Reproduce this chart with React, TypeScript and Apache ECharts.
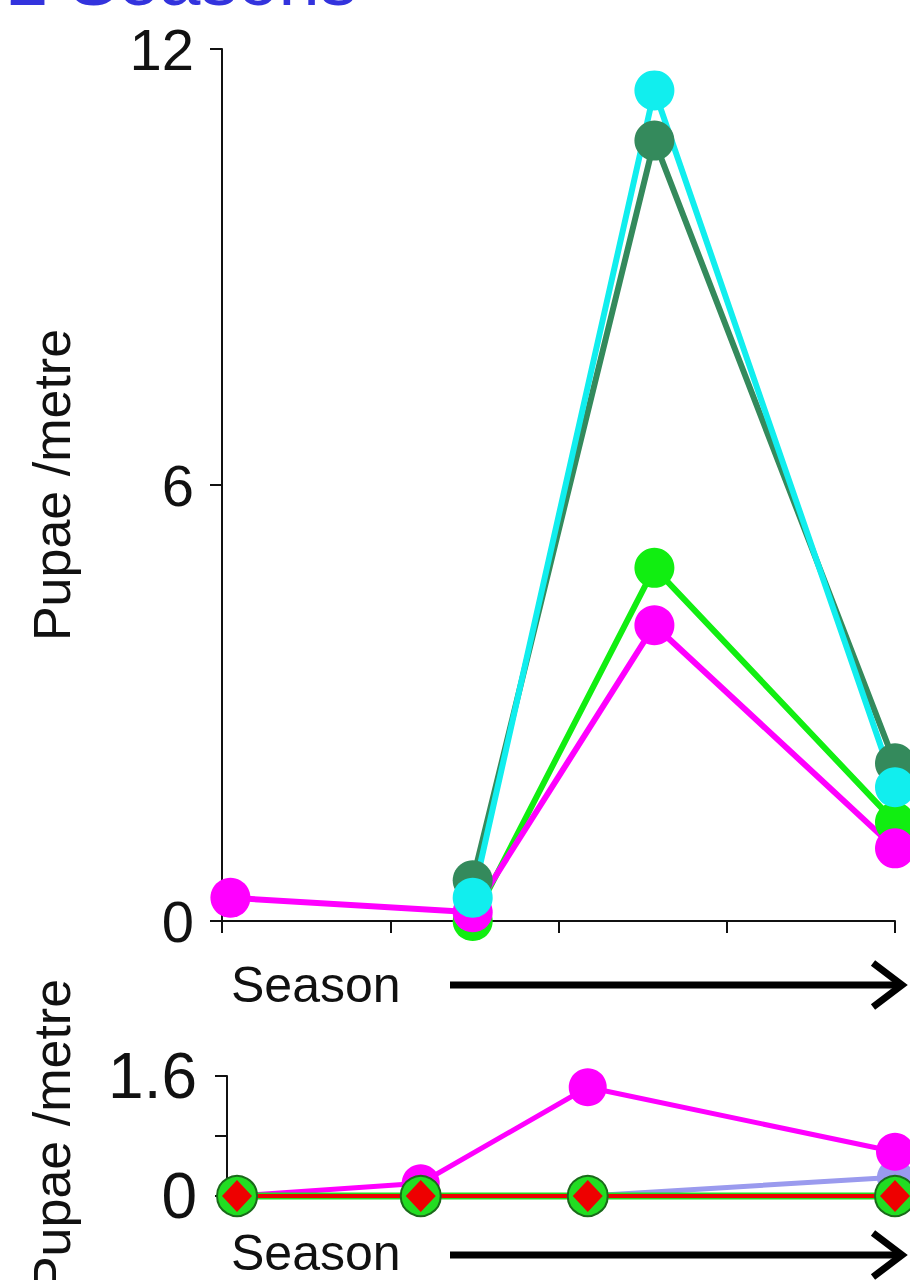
import React, { useEffect, useRef } from "react";
import * as echarts from "echarts";

// ---- Data ----
// Upper panel: x positions (season steps) and pupae per metre
const topX = [0.05, 1.49, 2.57, 4.0];
const topDarkGreen = [null, 0.56, 10.74, 2.17];
const topGreen = [null, 0.0, 4.86, 1.36];
const topMagenta = [0.32, 0.12, 4.07, 1.0];
const topCyan = [null, 0.32, 11.43, 1.84];
const topYTicks = [0, 6, 12];

// Lower panel
const botX = [0.06, 1.16, 2.16, 4.0];
const botLavender = [0, 0, 0, 0.25];
const botMagenta = [0, 0.17, 1.45, 0.59];
const botGreen = [0, 0, 0, 0];
const botRed = [0, 0, 0, 0];
const botYTicks = [0, 0.8, 1.6];

const title = "2 Seasons";
const xTitle = "Season";
const yTitle = "Pupae /metre";

const FONT = "'Liberation Sans', Arial, sans-serif";

function pairs(xs: number[], ys: (number | null)[]) {
  return xs.map((x, i) => [x, ys[i]]).filter((p) => p[1] !== null);
}

export default function App() {
  const ref = useRef<HTMLDivElement>(null);
  useEffect(() => {
    document.body.style.margin = "0";
    if (!ref.current) return;
    const chart = echarts.init(ref.current, undefined, { renderer: "svg" });

    const axisLineStyle = { color: "#111", width: 2 };

    const lineSeries = (
      name: string,
      xAxisIndex: number,
      data: any[],
      color: string,
      size: number,
      width: number,
      extra: any = {}
    ) => ({
      name,
      type: "line",
      xAxisIndex,
      yAxisIndex: xAxisIndex,
      data,
      clip: false,
      symbol: "circle",
      symbolSize: size,
      lineStyle: { color, width },
      itemStyle: { color, opacity: 1 },
      z: 3,
      ...extra,
    });

    const arrow = (y: number) => [
      {
        type: "line",
        shape: { x1: 450, y1: y, x2: 900, y2: y },
        style: { stroke: "#000", lineWidth: 7 },
      },
      {
        type: "polyline",
        shape: { points: [[873, y - 22], [902, y], [873, y + 22]] },
        style: { stroke: "#000", lineWidth: 7, fill: "none", lineJoin: "miter" },
      },
    ];

    const rotatedLabel = (y: number) => ({
      type: "text",
      x: 52,
      y,
      rotation: Math.PI / 2,
      style: {
        text: yTitle,
        fontSize: 52,
        fontFamily: FONT,
        fill: "#111",
        align: "center",
        verticalAlign: "middle",
      },
    });

    const seasonLabel = (y: number) => ({
      type: "text",
      x: 231,
      y,
      style: {
        text: xTitle,
        fontSize: 50,
        fontFamily: FONT,
        fill: "#111",
        align: "left",
        verticalAlign: "middle",
      },
    });

    chart.setOption({
      animation: false,
      backgroundColor: "#fff",
      grid: [
        { left: 222, right: 15, top: 49, height: 872 },
        { left: 227, right: 15, top: 1076, height: 120 },
      ],
      xAxis: [
        {
          type: "value",
          gridIndex: 0,
          min: 0,
          max: 4,
          interval: 1,
          axisLine: { show: true, lineStyle: axisLineStyle },
          axisTick: { show: true, length: 12, lineStyle: axisLineStyle },
          axisLabel: { show: false },
          splitLine: { show: false },
        },
        {
          type: "value",
          gridIndex: 1,
          min: 0,
          max: 4,
          show: false,
          splitLine: { show: false },
        },
      ],
      yAxis: [
        {
          type: "value",
          gridIndex: 0,
          min: topYTicks[0],
          max: topYTicks[topYTicks.length - 1],
          interval: topYTicks[1] - topYTicks[0],
          axisLine: { show: true, lineStyle: axisLineStyle },
          axisTick: { show: true, length: 12, lineStyle: axisLineStyle },
          axisLabel: {
            fontSize: 58,
            color: "#111",
            fontFamily: FONT,
            margin: 28,
          },
          splitLine: { show: false },
        },
        {
          type: "value",
          gridIndex: 1,
          min: botYTicks[0],
          max: botYTicks[botYTicks.length - 1],
          interval: botYTicks[1] - botYTicks[0],
          axisLine: { show: true, lineStyle: axisLineStyle },
          axisTick: { show: true, length: 12, lineStyle: axisLineStyle },
          axisLabel: {
            fontSize: 64,
            color: "#111",
            fontFamily: FONT,
            margin: 30,
            formatter: (v: number) =>
              Math.abs(v - botYTicks[1]) < 1e-6 ? "" : String(v),
          },
          splitLine: { show: false },
        },
      ],
      series: [
        lineSeries("Dark green", 0, pairs(topX, topDarkGreen), "#348a5c", 40, 6),
        lineSeries("Green", 0, pairs(topX, topGreen), "#11ee11", 40, 6),
        lineSeries("Magenta", 0, pairs(topX, topMagenta), "#ff00ff", 40, 6),
        lineSeries("Cyan", 0, pairs(topX, topCyan), "#11eeee", 40, 6),
        lineSeries("Lavender", 1, pairs(botX, botLavender), "#9a9aee", 36, 5),
        lineSeries("Magenta B", 1, pairs(botX, botMagenta), "#ff00ff", 38, 5),
        lineSeries("Green B", 1, pairs(botX, botGreen), "#22dd22", 40, 7, {
          itemStyle: { color: "#22dd22", borderColor: "#1a6a1a", borderWidth: 2 },
        }),
        lineSeries("Red B", 1, pairs(botX, botRed), "#ee0000", 30, 4, {
          symbol: "diamond",
          symbolSize: [30, 32],
        }),
      ],
      graphic: [
        {
          type: "text",
          left: 7,
          top: -58,
          style: {
            text: title,
            fontSize: 74,
            fontFamily: FONT,
            fill: "#3333dd",
          },
        },
        rotatedLabel(485),
        rotatedLabel(1135),
        seasonLabel(985),
        seasonLabel(1253),
        ...arrow(985),
        ...arrow(1255),
      ],
    });
    return () => chart.dispose();
  }, []);
  return <div ref={ref} style={{ width: 910, height: 1280 }} />;
}
